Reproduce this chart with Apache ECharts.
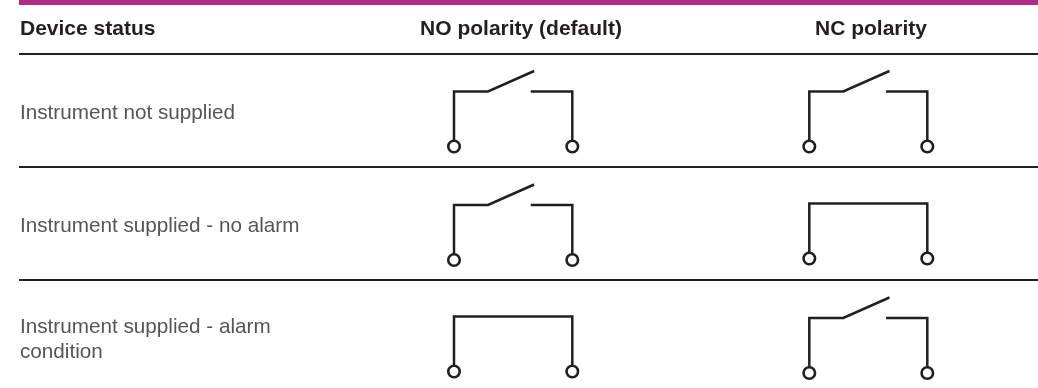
<!DOCTYPE html>
<html lang="en">
<head>
    <meta charset="UTF-8">
    <title>Device status polarity</title>
    <script src="https://cdn.jsdelivr.net/npm/echarts@6/dist/echarts.min.js"></script>
    <style>
        html, body { margin: 0; padding: 0; background: #fff; }
        #chart { width: 1038px; height: 388px; }
    </style>
</head>
<body>
    <div id="chart"></div>
    <script>
        var headers = ['Device status', 'NO polarity (default)', 'NC polarity'];
        var rowLabels = ['Instrument not supplied', 'Instrument supplied - no alarm', 'Instrument supplied - alarm\ncondition'];
        // contact state per row
        var noContact = ['open', 'open', 'closed'];
        var ncContact = ['open', 'closed', 'open'];

        // layout in page pixels, the axes below run 1:1 with the canvas
        var W = 1038, H = 388;
        var ink = '#231f20';
        var ruleY = [54, 167, 280];
        var wireY = [[91.5, 205, 316.5], [91.5, 203.5, 318]];
        var colX = [[454, 572.3], [809.3, 927.3]];
        var drop = 55;

        function wire(points, width) {
            return {
                type: 'line', data: points, symbol: 'none', silent: true, z: 2,
                lineStyle: { color: ink, width: width, cap: 'square', join: 'miter' }
            };
        }

        var series = [];
        var terminals = [];

        ruleY.forEach(function (y) {
            series.push(wire([[20, y], [W, y]], 2));
        });

        [noContact, ncContact].forEach(function (states, c) {
            var xl = colX[c][0], xr = colX[c][1];
            states.forEach(function (state, r) {
                var y = wireY[c][r];
                if (state === 'closed') {
                    series.push(wire([[xl, y + drop], [xl, y], [xr, y], [xr, y + drop]], 2.5));
                } else {
                    series.push(wire([[xl, y + drop], [xl, y], [xl + 34, y], [xl + 79, y - 20]], 2.5));
                    series.push(wire([[xl + 78, y], [xr, y], [xr, y + drop]], 2.5));
                }
                terminals.push([xl, y + drop], [xr, y + drop]);
            });
        });

        series.push({
            type: 'scatter', data: terminals, symbol: 'circle', symbolSize: 11.5, silent: true, z: 5,
            itemStyle: { color: '#fff', borderColor: ink, borderWidth: 2.6, opacity: 1 }
        });

        function text(x, y, s, align, bold, size) {
            return {
                type: 'text', x: x, y: y,
                style: {
                    text: s, align: align, verticalAlign: 'middle', lineHeight: 25,
                    font: (bold ? 'bold ' : '') + size + 'px "Liberation Sans", sans-serif',
                    fill: bold ? ink : '#555555'
                }
            };
        }

        var labels = [
            { type: 'rect', shape: { x: 19, y: 0, width: W - 19, height: 5 }, style: { fill: '#b02a86' } },
            text(20, 29, headers[0], 'left', true, 21),
            text(521, 29, headers[1], 'center', true, 21),
            text(871, 29, headers[2], 'center', true, 21),
            text(20, 113, rowLabels[0], 'left', false, 20.7),
            text(20, 226, rowLabels[1], 'left', false, 20.7),
            text(20, 340, rowLabels[2], 'left', false, 20.7)
        ];

        var chart = echarts.init(document.getElementById('chart'));
        chart.setOption({
            animation: false,
            grid: { left: 0, right: 0, top: 0, bottom: 0 },
            xAxis: { type: 'value', min: 0, max: W, show: false },
            yAxis: { type: 'value', min: 0, max: H, inverse: true, show: false },
            graphic: labels,
            series: series
        });
    </script>
</body>
</html>
